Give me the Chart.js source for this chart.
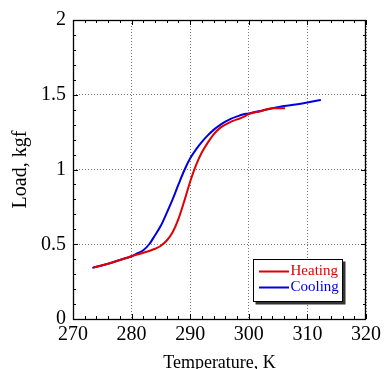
<!DOCTYPE html>
<html>
<head>
<meta charset="utf-8">
<script src="https://cdn.jsdelivr.net/npm/chart.js@4"></script>
<style>
  html, body { margin: 0; padding: 0; background: #fff; }
  canvas { display: block; }
</style>
</head>
<body>
<canvas id="loadChart" width="385" height="369"></canvas>
<script>
// values
const heatTemp = [273.5, 276, 278, 280, 282, 283, 284, 285, 286, 287, 288, 289, 290, 291, 292, 293, 294, 295, 296, 297, 298, 299, 300, 302, 304, 306.2];
const heatLoad = [0.345, 0.37, 0.395, 0.42, 0.443, 0.455, 0.47, 0.49, 0.525, 0.58, 0.67, 0.79, 0.92, 1.03, 1.115, 1.18, 1.235, 1.275, 1.30, 1.32, 1.335, 1.35, 1.37, 1.39, 1.41, 1.41];
const coolTemp = [273.3, 276, 278, 280, 281, 282, 283, 284, 285, 286, 287, 288, 289, 290, 291, 292, 293, 294, 295, 296, 297, 298, 299, 300, 302, 304, 306, 308, 310, 312.3];
const coolLoad = [0.342, 0.37, 0.395, 0.42, 0.44, 0.46, 0.5, 0.56, 0.625, 0.71, 0.8, 0.9, 0.995, 1.075, 1.135, 1.185, 1.228, 1.265, 1.295, 1.32, 1.34, 1.355, 1.368, 1.375, 1.392, 1.41, 1.425, 1.435, 1.448, 1.465];
const xTicks = [270, 280, 290, 300, 310, 320];
const yTicks = [0, 0.5, 1, 1.5, 2];

const serif = 'Liberation Serif, Times New Roman, serif';
const pts = (xs, ys) => xs.map((x, i) => ({ x, y: ys[i] }));

// frame and inward tick marks on all four sides
const frameTicks = {
  id: 'frameTicks',
  afterDatasetsDraw(chart) {
    const { ctx, chartArea: a, scales: { x, y } } = chart;
    ctx.save();
    ctx.strokeStyle = '#000';
    ctx.lineWidth = 1;
    ctx.beginPath();
    for (let v = 270; v <= 320; v += 2) {
      const px = Math.round(x.getPixelForValue(v)) + 0.5;
      const len = v % 10 === 0 ? 5 : 3;
      ctx.moveTo(px, a.bottom); ctx.lineTo(px, a.bottom - len);
      ctx.moveTo(px, a.top); ctx.lineTo(px, a.top + len);
    }
    for (let i = 0; i <= 20; i++) {
      const py = Math.round(y.getPixelForValue(i / 10)) + 0.5;
      const len = i % 5 === 0 ? 5 : 3;
      ctx.moveTo(a.left, py); ctx.lineTo(a.left + len, py);
      ctx.moveTo(a.right, py); ctx.lineTo(a.right - len, py);
    }
    ctx.stroke();
    ctx.lineWidth = 1.3;
    ctx.strokeRect(a.left + 0.5, a.top + 0.5, a.right - a.left - 1, a.bottom - a.top);
    ctx.restore();
  }
};

// boxed legend with a drop shadow, inside the plot
const boxLegend = {
  id: 'boxLegend',
  afterDraw(chart) {
    const { ctx } = chart;
    const bx = 253.5, by = 259.5, bw = 89, bh = 42;
    ctx.save();
    ctx.fillStyle = '#333';
    ctx.fillRect(bx + 2, by + 2, bw + 1, bh + 1);
    ctx.fillStyle = '#fff';
    ctx.fillRect(bx, by, bw, bh);
    ctx.strokeStyle = '#000';
    ctx.lineWidth = 1;
    ctx.strokeRect(bx, by, bw, bh);
    ctx.font = '15px ' + serif;
    ctx.textBaseline = 'middle';
    chart.data.datasets.forEach((ds, i) => {
      const ly = 271.5 + i * 16;
      ctx.strokeStyle = ds.borderColor;
      ctx.lineWidth = 2;
      ctx.beginPath();
      ctx.moveTo(259, ly); ctx.lineTo(289, ly);
      ctx.stroke();
      ctx.fillStyle = ds.borderColor;
      ctx.fillText(ds.label, 290.5, ly);
    });
    ctx.restore();
  }
};

new Chart(document.getElementById('loadChart'), {
  type: 'scatter',
  data: {
    datasets: [
      { label: 'Heating', data: pts(heatTemp, heatLoad), borderColor: '#e00000', showLine: true, borderWidth: 2, pointRadius: 0, cubicInterpolationMode: 'monotone' },
      { label: 'Cooling', data: pts(coolTemp, coolLoad), borderColor: '#0000e0', showLine: true, borderWidth: 2, pointRadius: 0, cubicInterpolationMode: 'monotone' }
    ]
  },
  options: {
    responsive: false,
    animation: false,
    layout: { padding: { left: 0, right: 16, top: 20, bottom: 0 } },
    plugins: { legend: { display: false }, tooltip: { enabled: false } },
    scales: {
      x: {
        type: 'linear', min: 270, max: 320,
        afterBuildTicks: s => { s.ticks = xTicks.map(value => ({ value })); },
        afterFit: s => { s.height = 50; },
        ticks: { font: { family: serif, size: 20 }, color: '#000', padding: 4, maxRotation: 0, callback: v => String(v) },
        grid: { color: '#777', drawTicks: false },
        border: { display: false, dash: [1, 2] },
        title: { display: true, text: 'Temperature, K', color: '#000', font: { family: serif, size: 18 }, padding: { top: 0, bottom: -5 } }
      },
      y: {
        min: 0, max: 2,
        afterBuildTicks: s => { s.ticks = yTicks.map(value => ({ value })); },
        afterFit: s => { s.width = 73; },
        ticks: { font: { family: serif, size: 20 }, color: '#000', padding: 7, callback: v => String(v) },
        grid: { color: '#777', drawTicks: false },
        border: { display: false, dash: [1, 2] },
        title: { display: true, text: 'Load, kgf', color: '#000', font: { family: serif, size: 20 }, padding: { top: 9, bottom: 0 } }
      }
    }
  },
  plugins: [frameTicks, boxLegend]
});
</script>
</body>
</html>
